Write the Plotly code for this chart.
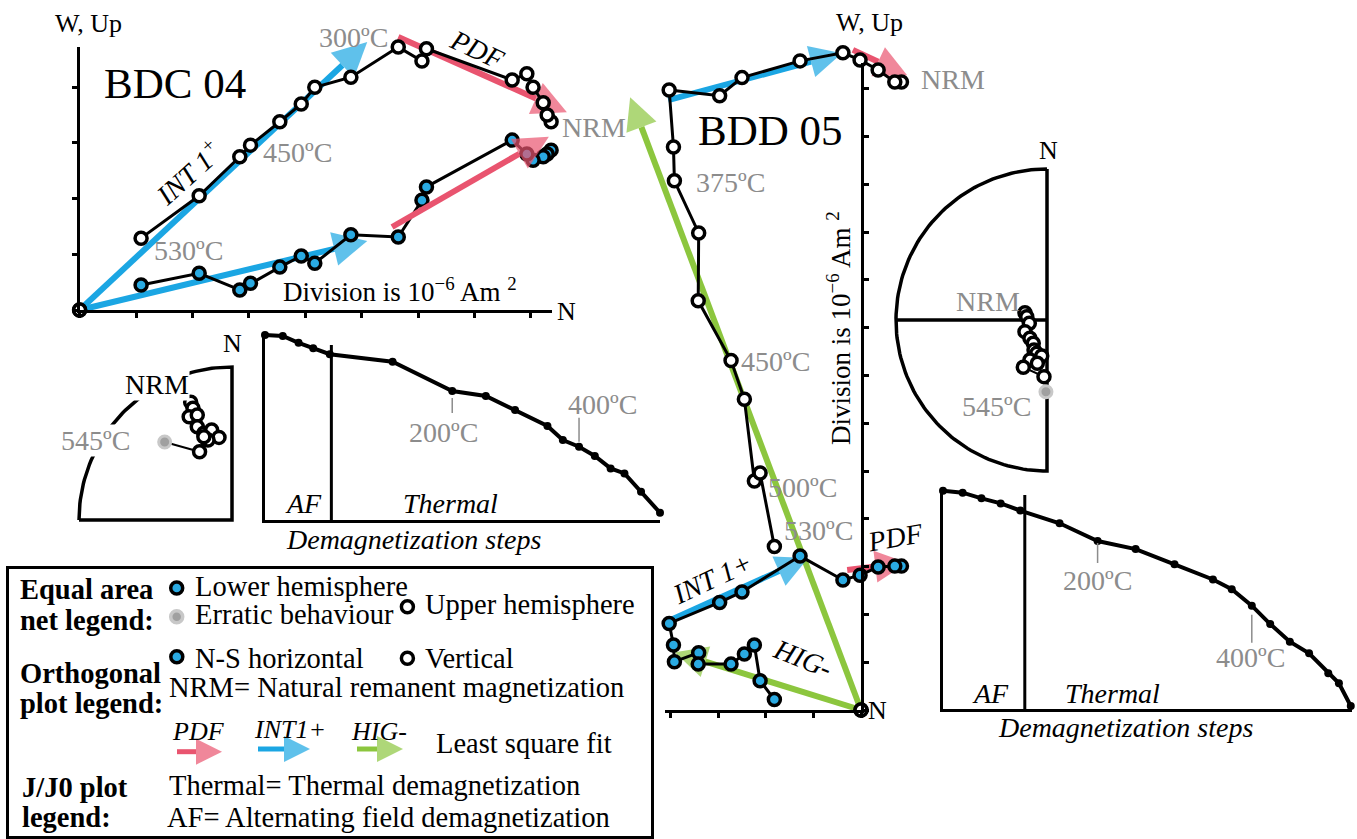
import numpy as np
import plotly.graph_objects as go

W, H = 1357, 839
FONT = "Liberation Serif"
GRAY = "#8c8c8c"
C_PDF = "#e9546f"
C_INT = "#1ba6e3"
C_HIG = "#8cc63e"
C_LOW = "#2aaae2"
C_ERR = "#a0a0a0"

# ---------------- BDC 04 orthogonal plot (1 division = 1e-6 Am2), NRM first ----------------
bdc_n = [8.36, 8.29, 8.22, 8.04, 7.93, 7.67, 6.15, 6.07, 5.65, 4.81, 4.17, 3.93, 3.55, 3.03, 2.84, 2.12, 1.09, 0.0]
bdc_up = [3.38, 3.50, 3.72, 4.00, 4.24, 4.13, 4.69, 4.47, 4.72, 4.18, 4.00, 3.70, 3.38, 2.96, 2.75, 2.05, 1.29, 0.0]
bdc_w = [2.87, 2.80, 2.75, 2.69, 2.80, 3.05, 2.21, 1.97, 1.31, 1.35, 0.84, 0.97, 0.77, 0.48, 0.36, 0.66, 0.45, 0.0]
bdc_fit_comp = ["INT", "INT", "PDF", "PDF"]
bdc_fit_x0 = [0.0, 0.0, 5.65, 5.54]
bdc_fit_y0 = [0.0, 0.0, 4.90, 1.49]
bdc_fit_x1 = [5.10, 5.10, 8.64, 8.32]
bdc_fit_y1 = [4.81, 1.24, 3.55, 3.11]

# ---------------- BDD 05 orthogonal plot ----------------
bdd_n = [0.85, 0.71, 0.36, -0.02, -0.38, -1.28, -2.50, -2.97, -4.03, -3.94, -3.92, -3.41, -3.42,
         -2.73, -2.45, -2.24, -2.12, -1.82, 0.0]
bdd_up = [13.14, 13.14, 13.39, 13.60, 13.75, 13.58, 13.23, 12.85, 12.97, 11.78, 11.07, 9.98, 8.56,
          7.31, 6.50, 4.79, 4.96, 3.42, 0.0]
bdd_w = [3.01, 3.01, 2.99, 2.82, 2.72, 3.22, 2.47, 2.25, 1.81, 1.36, 1.01, 1.20, 0.96,
         0.96, 1.17, 1.36, 0.61, 0.22, 0.0]
bdd_fit_comp = ["INT", "PDF", "HIG", "INT", "PDF", "HIG"]
bdd_fit_x0 = [-4.05, -0.17, 0.0, -4.01, -0.29, 0.0]
bdd_fit_y0 = [12.76, 13.81, 0.0, 1.88, 2.93, 0.0]
bdd_fit_x1 = [-0.40, 0.97, -4.85, -1.11, 0.97, -3.91]
bdd_fit_y1 = [13.74, 13.28, 12.82, 3.18, 3.08, 1.21]

# ---------------- Equal-area nets (unit radius) ----------------
net1_x = [-0.27, -0.255, -0.28, -0.227, -0.227, -0.184, -0.133, -0.085, -0.157, -0.184, -0.212]
net1_y = [0.77, 0.73, 0.675, 0.686, 0.61, 0.567, 0.588, 0.54, 0.523, 0.544, 0.446]
net1_err_x = [-0.44]
net1_err_y = [0.51]
net2_x = [-0.146, -0.134, -0.117, -0.146, -0.113, -0.091, -0.086, -0.068, -0.035, -0.113, -0.064, -0.157, -0.020]
net2_y = [0.048, 0.022, -0.022, -0.077, -0.121, -0.154, -0.199, -0.221, -0.238, -0.265, -0.287, -0.313, -0.375]
net2_err_x = [-0.007]
net2_err_y = [-0.475]

# ---------------- J/J0 demagnetization curves ----------------
jj1_step = [0.0, 0.045, 0.085, 0.122, 0.164, 0.323, 0.474, 0.559, 0.633, 0.715, 0.754, 0.795, 0.835, 0.875, 0.910, 0.952, 1.0]
jj1_val = [1.0, 0.995, 0.958, 0.928, 0.896, 0.856, 0.697, 0.670, 0.595, 0.508, 0.432, 0.396, 0.346, 0.279, 0.252, 0.153, 0.039]
jj1_af_end = 0.168
jj2_step = [0.0, 0.048, 0.094, 0.141, 0.189, 0.285, 0.378, 0.471, 0.566, 0.660, 0.706, 0.755, 0.800, 0.848, 0.895, 0.942, 0.968, 0.997]
jj2_val = [1.0, 0.991, 0.965, 0.942, 0.909, 0.851, 0.770, 0.733, 0.663, 0.594, 0.549, 0.474, 0.390, 0.309, 0.256, 0.165, 0.119, 0.015]
jj2_af_end = 0.20
temp_step_index = [6, 11]          # steps marked 200ºC and 400ºC
temp_step_label = ["200ºC", "400ºC"]

COMP_COLOR = {"PDF": C_PDF, "INT": C_INT, "HIG": C_HIG}

fig = go.Figure()
ann = []
shapes = []
MS, MW = 12, 3.5


def label(x, y, text, size=28, color="black", angle=0, bg=None, xanchor="center"):
    ann.append(dict(x=x / W, y=1 - y / H, xref="paper", yref="paper", text=text, showarrow=False,
                    font=dict(family=FONT, size=size, color=color), textangle=angle,
                    xanchor=xanchor, yanchor="middle",
                    bgcolor=bg if bg else "rgba(0,0,0,0)", borderpad=0))


def arrow(xa, ya, x0, y0, x1, y1, color, size=32, width=6):
    fig.add_trace(go.Scatter(x=[x0, x1], y=[y0, y1], mode="lines+markers",
                             line=dict(color=color, width=width),
                             marker=dict(symbol="arrow-up", size=[0, size], angleref="previous",
                                         color=color, line=dict(width=0)),
                             cliponaxis=False, xaxis=xa, yaxis=ya, hoverinfo="skip"))


def ortho_points(xa, ya, n, v, h):
    fig.add_trace(go.Scatter(x=n[:-1], y=h[:-1], mode="lines", line=dict(color="black", width=3),
                             xaxis=xa, yaxis=ya, cliponaxis=False))
    fig.add_trace(go.Scatter(x=n[:-1], y=v[:-1], mode="lines", line=dict(color="black", width=3),
                             xaxis=xa, yaxis=ya, cliponaxis=False))
    fig.add_trace(go.Scatter(x=n, y=h, mode="markers", cliponaxis=False, xaxis=xa, yaxis=ya,
                             marker=dict(size=MS, color=C_LOW, line=dict(color="black", width=MW))))
    fig.add_trace(go.Scatter(x=n, y=v, mode="markers", cliponaxis=False, xaxis=xa, yaxis=ya,
                             marker=dict(size=MS, color="white", line=dict(color="black", width=MW))))


# ---- BDC 04 ----
for i in range(len(bdc_fit_comp) - 1):
    arrow("x", "y", bdc_fit_x0[i], bdc_fit_y0[i], bdc_fit_x1[i], bdc_fit_y1[i], COMP_COLOR[bdc_fit_comp[i]], size=34)
ortho_points("x", "y", bdc_n, bdc_up, bdc_w)
i = len(bdc_fit_comp) - 1
arrow("x", "y", bdc_fit_x0[i], bdc_fit_y0[i], bdc_fit_x1[i], bdc_fit_y1[i], COMP_COLOR[bdc_fit_comp[i]], size=34)

# ---- BDD 05 ----
for i in range(len(bdd_fit_comp)):
    arrow("x3", "y3", bdd_fit_x0[i], bdd_fit_y0[i], bdd_fit_x1[i], bdd_fit_y1[i], COMP_COLOR[bdd_fit_comp[i]], size=32)
ortho_points("x3", "y3", bdd_n, bdd_up, bdd_w)

# display axes (empty traces)
fig.add_trace(go.Scatter(x=[], y=[], xaxis="x2", yaxis="y2"))
fig.add_trace(go.Scatter(x=[], y=[], xaxis="x4", yaxis="y4"))

# ---- equal area nets ----
th = np.linspace(np.pi / 2, np.pi, 60)
fig.add_trace(go.Scatter(x=np.concatenate([[-1, 0, 0], np.cos(th)]), y=np.concatenate([[0, 0, 1], np.sin(th)]),
                         mode="lines", line=dict(color="black", width=3.5), xaxis="x5", yaxis="y5", cliponaxis=False))
fig.add_trace(go.Scatter(x=[net1_x[-1], net1_err_x[0]], y=[net1_y[-1], net1_err_y[0]], mode="lines",
                         line=dict(color="black", width=2), xaxis="x5", yaxis="y5"))
fig.add_trace(go.Scatter(x=net1_x, y=net1_y, mode="lines", line=dict(color="black", width=2), xaxis="x5", yaxis="y5"))
fig.add_trace(go.Scatter(x=net1_err_x, y=net1_err_y, mode="markers", xaxis="x5", yaxis="y5",
                         marker=dict(size=MS, color=C_ERR, line=dict(color="#c8c8c8", width=3))))
fig.add_trace(go.Scatter(x=net1_x, y=net1_y, mode="markers", xaxis="x5", yaxis="y5",
                         marker=dict(size=MS, color="white", line=dict(color="black", width=MW))))

th2 = np.linspace(1.5 * np.pi, 0.5 * np.pi, 120)
fig.add_trace(go.Scatter(x=np.concatenate([[0, 0], np.cos(th2)]), y=np.concatenate([[1, -1], np.sin(th2)]),
                         mode="lines", line=dict(color="black", width=3.5), xaxis="x6", yaxis="y6", cliponaxis=False))
fig.add_trace(go.Scatter(x=[-1, 0], y=[0, 0], mode="lines", line=dict(color="black", width=3.5), xaxis="x6", yaxis="y6"))
fig.add_trace(go.Scatter(x=net2_x, y=net2_y, mode="lines", line=dict(color="black", width=2), xaxis="x6", yaxis="y6"))
fig.add_trace(go.Scatter(x=net2_err_x, y=net2_err_y, mode="markers", xaxis="x6", yaxis="y6",
                         marker=dict(size=MS, color=C_ERR, line=dict(color="#c8c8c8", width=3))))
fig.add_trace(go.Scatter(x=net2_x, y=net2_y, mode="markers", xaxis="x6", yaxis="y6",
                         marker=dict(size=MS, color="white", line=dict(color="black", width=MW))))

# ---- J/J0 curves ----
for xa, ya, sx, sy in (("x7", "y7", jj1_step, jj1_val), ("x8", "y8", jj2_step, jj2_val)):
    fig.add_trace(go.Scatter(x=sx, y=sy, mode="lines+markers", line=dict(color="black", width=4),
                             marker=dict(size=8, color="black"), xaxis=xa, yaxis=ya, cliponaxis=False))
shapes.append(dict(type="line", xref="x7", yref="y7", x0=jj1_af_end, x1=jj1_af_end, y0=0, y1=0.946,
                   line=dict(color="black", width=3)))
shapes.append(dict(type="line", xref="x8", yref="y8", x0=jj2_af_end, x1=jj2_af_end, y0=0, y1=0.98,
                   line=dict(color="black", width=3)))
# temperature tick marks (pixel offsets from the marked step)
tick_specs = [("x7", "y7", jj1_step, jj1_val, 0, -7, -22), ("x7", "y7", jj1_step, jj1_val, 1, 5, 29),
              ("x8", "y8", jj2_step, jj2_val, 0, -2, -22), ("x8", "y8", jj2_step, jj2_val, 1, -9, -37)]
for xa, ya, sx, sy, j, p0, p1 in tick_specs:
    k = temp_step_index[j]
    shapes.append(dict(type="line", xref=xa, yref=ya, x0=sx[k], x1=sx[k], ysizemode="pixel",
                       yanchor=sy[k], y0=p0, y1=p1, line=dict(color=GRAY, width=1.5)))

# ---- legend glyphs ----
leg_x = [176.7, 176.7, 407.4, 176.8, 407.4]
leg_y = [588, 616.7, 606.7, 656.7, 658.3]
leg_fill = [C_LOW, C_ERR, "white", C_LOW, "white"]
leg_edge = ["black", "#c8c8c8", "black", "black", "black"]
fig.add_trace(go.Scatter(x=leg_x, y=leg_y, mode="markers", xaxis="x9", yaxis="y9",
                         marker=dict(size=12, color=leg_fill, line=dict(color=leg_edge, width=3.5))))
leg_arrow_x0 = [177, 258, 357]
leg_arrow_x1 = [222, 310, 403]
leg_arrow_y = [751.7, 749, 749]
leg_arrow_comp = ["PDF", "INT", "HIG"]
for i in range(3):
    arrow("x9", "y9", leg_arrow_x0[i], leg_arrow_y[i], leg_arrow_x1[i], leg_arrow_y[i],
          COMP_COLOR[leg_arrow_comp[i]], size=26, width=5)

# ---------------- axes ----------------
def data_axes(ox, oy, ux, uy, bx0, bx1, by0, by1, anchor_x, anchor_y):
    xa = dict(domain=[bx0 / W, bx1 / W], range=[(bx0 - ox) / ux, (bx1 - ox) / ux], visible=False, anchor=anchor_y)
    ya = dict(domain=[1 - by1 / H, 1 - by0 / H], range=[(oy - by1) / uy, (oy - by0) / uy], visible=False, anchor=anchor_x)
    return xa, ya


axline = dict(showline=True, linecolor="black", linewidth=3, ticks="outside", ticklen=5, tickwidth=3,
              tickcolor="black", dtick=1, tick0=0, showticklabels=False, showgrid=False, zeroline=False)
frame = dict(showline=True, linecolor="black", linewidth=3, ticks="", showticklabels=False,
             showgrid=False, zeroline=False)

L = {}
L["xaxis"], L["yaxis"] = data_axes(79.6, 310, 56.4, 55.7, 30, 640, 10, 340, "x", "y")
L["xaxis2"] = dict(domain=[79.6 / W, 552 / W], range=[0, (552 - 79.6) / 56.4], anchor="y2", **axline)
L["yaxis2"] = dict(domain=[1 - 310 / H, 1 - 47 / H], range=[0, (310 - 47) / 55.7], anchor="x2", **axline)
L["xaxis3"], L["yaxis3"] = data_axes(861, 710, 47.6, 47.8, 600, 960, 20, 740, "x3", "y3")
L["xaxis4"] = dict(domain=[665 / W, 861 / W], range=[(665 - 861) / 47.6, 0], anchor="y4", **axline)
L["yaxis4"] = dict(domain=[1 - 710 / H, 1 - 63 / H], range=[0, (710 - 63) / 47.8], anchor="x4", side="right", **axline)
L["xaxis5"], L["yaxis5"] = data_axes(232, 520, 153, 153, 50, 260, 340, 540, "x5", "y5")
L["xaxis6"], L["yaxis6"] = data_axes(1047, 320, 151, 151, 880, 1070, 140, 500, "x6", "y6")
L["xaxis7"] = dict(domain=[265 / W, 660 / W], range=[0, 1], anchor="y7", **frame)
L["yaxis7"] = dict(domain=[1 - 520 / H, 1 - 333 / H], range=[0, (520 - 333) / 185], anchor="x7", **frame)
L["xaxis8"] = dict(domain=[943 / W, 1352 / W], range=[0, 1], anchor="y8", **frame)
L["yaxis8"] = dict(domain=[1 - 709.3 / H, 1 - 488.5 / H], range=[0, (709.3 - 488.5) / 218.6], anchor="x8", **frame)
L["xaxis9"] = dict(domain=[9 / W, 651 / W], range=[9, 651], anchor="y9", mirror=True, **{**frame, "linewidth": 2.5})
L["yaxis9"] = dict(domain=[1 - 836 / H, 1 - 569 / H], range=[836, 569], anchor="x9", mirror=True, **{**frame, "linewidth": 2.5})

# ---------------- text ----------------
sup = "10<sup>−6</sup> Am <sup>2</sup>"
# BDC 04
label(88, 24, "W, Up", size=26)
label(175, 83, "BDC 04", size=43)
label(353, 38, "300ºC", color=GRAY)
label(477, 50, "<i>PDF</i>", angle=25)
label(594, 127, "NRM", color=GRAY)
label(188, 172, "<i>INT 1<sup>+</sup></i>", angle=-42)
label(297, 153, "450ºC", color=GRAY)
label(188, 250, "530ºC", color=GRAY)
label(400, 290, "Division is " + sup, size=27)
label(566, 311, "N", size=26)
# BDD 05
label(869, 23, "W, Up", size=26)
label(770, 130, "BDD 05", size=43)
label(953, 79, "NRM", color=GRAY)
label(730, 183, "375ºC", color=GRAY)
label(775, 361, "450ºC", color=GRAY)
label(802, 487, "500ºC", color=GRAY)
label(818, 530, "530ºC", color=GRAY)
label(895, 537, "<i>PDF</i>", angle=-10)
label(712, 578, "<i>INT 1+</i>", angle=-25)
label(803, 658, "<i>HIG-</i>", angle=22)
label(877, 710, "N", size=26)
label(839, 328, "Division is " + sup, size=27, angle=-90)
# nets
label(232, 343, "N", size=26)
label(157, 384, "NRM", bg="white")
label(95, 440, "545ºC", color=GRAY, bg="white")
label(1048, 151, "N", size=26)
label(988, 302, "NRM", color=GRAY)
label(997, 407, "545ºC", color=GRAY)
# J/J0
label(303, 503, "<i>AF</i>")
label(450, 503, "<i>Thermal</i>")
label(413, 539, "<i>Demagnetization steps</i>")
label(444, 432, temp_step_label[0], color=GRAY)
label(602, 404, temp_step_label[1], color=GRAY)
label(990, 693, "<i>AF</i>")
label(1112, 693, "<i>Thermal</i>")
label(1125, 727, "<i>Demagnetization steps</i>")
label(1097, 580, temp_step_label[0], color=GRAY)
label(1250, 657, temp_step_label[1], color=GRAY)
# legend
LS = 28.5
label(19, 589, "<b>Equal area</b>", size=LS, xanchor="left")
label(19, 620, "<b>net legend:</b>", size=LS, xanchor="left")
label(194, 586, "Lower hemisphere", size=LS, xanchor="left")
label(194, 614, "Erratic behaviour", size=LS, xanchor="left")
label(424, 604, "Upper hemisphere", size=LS, xanchor="left")
label(194, 658, "N-S horizontal", size=LS, xanchor="left")
label(424, 658, "Vertical", size=LS, xanchor="left")
label(19, 673, "<b>Orthogonal</b>", size=LS, xanchor="left")
label(19, 703, "<b>plot legend:</b>", size=LS, xanchor="left")
label(168, 687, "NRM= Natural remanent magnetization", size=LS, xanchor="left")
label(198, 731, "<i>PDF</i>", size=26)
label(290, 729, "<i>INT1+</i>", size=26)
label(379, 731, "<i>HIG-</i>", size=26)
label(435, 743, "Least square fit", size=LS, xanchor="left")
label(21, 787, "<b>J/J0 plot</b>", size=LS, xanchor="left")
label(21, 817, "<b>legend:</b>", size=LS, xanchor="left")
label(168, 785, "Thermal= Thermal demagnetization", size=LS, xanchor="left")
label(166, 817, "AF= Alternating field demagnetization", size=LS, xanchor="left")

fig.update_layout(width=W, height=H, margin=dict(l=0, r=0, t=0, b=0), showlegend=False,
                  paper_bgcolor="white", plot_bgcolor="rgba(0,0,0,0)",
                  annotations=ann, shapes=shapes, font=dict(family=FONT), **L)
fig.write_html("out.html", config={"displayModeBar": False},
               post_script="document.body.style.margin='0';document.body.style.overflow='hidden';")
